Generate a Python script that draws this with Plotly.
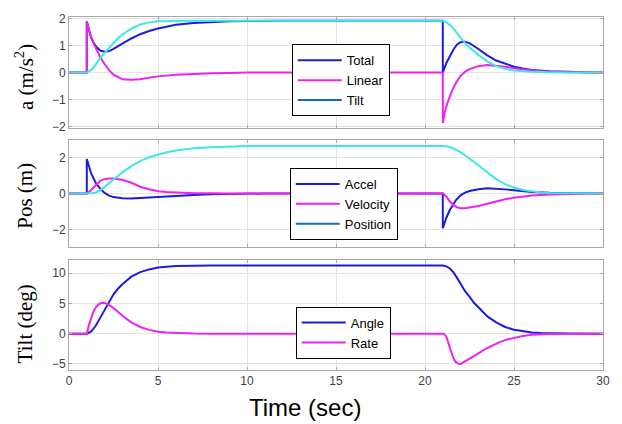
import plotly.graph_objects as go

# ---------------- data ----------------
# Panel 1: accelerations (m/s^2)
total_t = [0, 1, 1, 1.1, 1.25, 1.5, 1.75, 2, 2.25, 2.5, 2.75, 3, 3.5, 4, 4.5, 5, 5.5, 6, 7, 8, 9, 10, 12,
           21, 21, 21.2, 21.4, 21.6, 21.8, 22, 22.2, 22.5, 23, 23.5, 24, 24.5, 25, 25.5, 26, 27, 28, 29, 30]
total_v = [0, 0, 1.9, 1.62, 1.28, 0.98, 0.82, 0.78, 0.8, 0.88, 0.98, 1.08, 1.27, 1.43, 1.55, 1.64, 1.72, 1.78, 1.85, 1.89, 1.91, 1.92, 1.93,
           1.93, 0, 0.36, 0.61, 0.86, 1.05, 1.13, 1.16, 1.1, 0.88, 0.64, 0.45, 0.32, 0.22, 0.15, 0.1, 0.05, 0.02, 0.01, 0]

linear_t = [0, 1, 1, 1.1, 1.25, 1.5, 1.75, 2, 2.25, 2.5, 2.75, 3, 3.5, 4, 4.5, 5, 6, 7, 8, 9, 10,
            21, 21, 21.1, 21.25, 21.5, 21.75, 22, 22.25, 22.5, 23, 23.5, 24, 24.5, 25, 25.5, 26, 27, 28, 30]
linear_v = [0, 0, 1.9, 1.62, 1.3, 0.92, 0.58, 0.32, 0.09, -0.08, -0.18, -0.25, -0.27, -0.25, -0.19, -0.14, -0.08, -0.04, -0.02, -0.01, 0,
            0, -1.88, -1.5, -1.15, -0.7, -0.37, -0.12, 0.03, 0.13, 0.24, 0.28, 0.26, 0.22, 0.16, 0.12, 0.08, 0.03, 0.01, 0]

tilt_t = [0, 1, 1.25, 1.5, 1.75, 2, 2.25, 2.5, 2.75, 3, 3.5, 4, 4.5, 5, 6, 7,
          21, 21.25, 21.5, 21.75, 22, 22.25, 22.5, 23, 23.5, 24, 24.5, 25, 25.5, 26, 27, 28, 30]
tilt_v = [0, 0, 0.1, 0.3, 0.55, 0.74, 0.9, 1.1, 1.28, 1.42, 1.64, 1.79, 1.87, 1.91, 1.93, 1.93,
          1.93, 1.85, 1.72, 1.53, 1.3, 1.1, 0.93, 0.66, 0.42, 0.24, 0.14, 0.08, 0.05, 0.03, 0.01, 0, 0]

# Panel 2: position quantities
accel_t = [0, 1, 1, 1.1, 1.25, 1.5, 1.75, 2, 2.25, 2.5, 3, 3.5, 4, 5, 6, 7, 8, 9, 10, 11,
           21, 21, 21.2, 21.4, 21.6, 21.75, 22, 22.25, 22.5, 23, 23.5, 24, 24.5, 25, 25.5, 26, 27, 28, 30]
accel_v = [0, 0, 1.92, 1.55, 1.1, 0.6, 0.27, 0.03, -0.12, -0.2, -0.27, -0.28, -0.25, -0.17, -0.11, -0.08, -0.04, -0.02, -0.01, 0,
           0, -1.93, -1.35, -0.91, -0.6, -0.35, -0.1, 0.05, 0.14, 0.24, 0.29, 0.27, 0.23, 0.18, 0.13, 0.09, 0.04, 0.02, 0]

velocity_t = [0, 1, 1.25, 1.5, 1.75, 2, 2.25, 2.5, 3, 3.5, 4, 4.5, 5, 5.5, 6, 7, 8, 9,
              21, 21.2, 21.4, 21.6, 21.8, 22, 22.25, 22.5, 23, 23.5, 24, 24.5, 25, 25.5, 26, 27, 28, 29, 30]
velocity_v = [0, 0, 0.2, 0.48, 0.7, 0.8, 0.84, 0.83, 0.77, 0.6, 0.38, 0.24, 0.13, 0.08, 0.05, 0.02, 0.01, 0,
              0, -0.17, -0.45, -0.65, -0.77, -0.82, -0.82, -0.79, -0.7, -0.57, -0.44, -0.32, -0.23, -0.17, -0.11, -0.05, -0.02, -0.01, 0]

position_t = [0, 1, 1.25, 1.5, 1.75, 2, 2.25, 2.5, 3, 3.5, 4, 4.5, 5, 5.5, 6, 7, 8, 9, 10,
              21, 21.25, 21.5, 22, 22.5, 23, 23.5, 24, 24.5, 25, 25.5, 26, 26.5, 27, 28, 29, 30]
position_v = [0, 0, 0.01, 0.06, 0.18, 0.37, 0.57, 0.78, 1.18, 1.52, 1.8, 2.02, 2.18, 2.3, 2.4, 2.52, 2.58, 2.62, 2.64,
              2.64, 2.62, 2.55, 2.3, 1.95, 1.55, 1.15, 0.8, 0.52, 0.33, 0.2, 0.11, 0.06, 0.03, 0.01, 0, 0]

# Panel 3: tilt (deg)
angle_t = [0, 1, 1.25, 1.5, 1.75, 2, 2.25, 2.5, 2.75, 3, 3.5, 4, 4.5, 5, 5.5, 6, 7, 8,
           21, 21.2, 21.4, 21.6, 21.8, 22, 22.25, 22.5, 22.75, 23, 23.5, 24, 24.5, 25, 25.5, 26, 26.5, 27, 28, 30]
angle_v = [0, 0, 0.35, 1.3, 2.6, 3.9, 5.3, 6.5, 7.4, 8.15, 9.4, 10.15, 10.6, 10.9, 11.05, 11.15, 11.22, 11.25,
           11.25, 11.1, 10.75, 10.1, 9.2, 8.2, 7.0, 6.1, 5.1, 4.35, 2.85, 1.85, 1.1, 0.65, 0.37, 0.2, 0.1, 0.05, 0.01, 0]

rate_t = [0, 1, 1.1, 1.2, 1.35, 1.5, 1.65, 1.8, 1.95, 2.1, 2.4, 2.7, 3, 3.5, 4, 4.5, 5, 5.5, 6, 7, 8,
          21.05, 21.2, 21.4, 21.56, 21.7, 21.85, 22, 22.3, 22.6, 22.87, 23.4, 23.8, 24.2, 24.6, 25.1, 25.5, 26, 26.5, 27, 28, 30]
rate_v = [0, 0, 1.2, 2.3, 3.5, 4.3, 4.8, 5.05, 5.1, 4.95, 4.45, 3.75, 2.95, 1.86, 1.1, 0.62, 0.33, 0.17, 0.08, 0.02, 0,
          0, -0.5, -2.4, -3.8, -4.6, -4.95, -5.0, -4.5, -4.0, -3.5, -2.5, -1.9, -1.4, -0.95, -0.6, -0.38, -0.2, -0.1, -0.04, -0.01, 0]

x_ticks = [0, 5, 10, 15, 20, 25, 30]
y1_ticks = [-2, -1, 0, 1, 2]
y2_ticks = [-2, 0, 2]
y3_ticks = [-5, 0, 5, 10]

# ---------------- styling ----------------
BLUE = "#1c1cdc"
MAGENTA = "#ee22ee"
CYAN = "#40e6e6"
LEG_TILT = "#0d6fb8"
SANS = "Liberation Sans, Arial, sans-serif"
SERIF = "Liberation Serif, Times New Roman, serif"
LW = 2

fig = go.Figure()

def add(t, v, color, name, axis, legend, show=True):
    fig.add_trace(go.Scatter(x=t, y=v, mode="lines", name=name,
                             line=dict(color=color, width=LW),
                             xaxis="x" + axis, yaxis="y" + axis,
                             legend=legend, showlegend=show, hoverinfo="skip"))

def add_legend_only(color, name, axis, legend):
    fig.add_trace(go.Scatter(x=[None], y=[None], mode="lines", name=name,
                             line=dict(color=color, width=LW),
                             xaxis="x" + axis, yaxis="y" + axis,
                             legend=legend, showlegend=True))

# panel 1
add(total_t, total_v, BLUE, "Total", "", "legend")
add(linear_t, linear_v, MAGENTA, "Linear", "", "legend")
add(tilt_t, tilt_v, CYAN, "Tilt", "", "legend", show=False)
add_legend_only(LEG_TILT, "Tilt", "", "legend")
# panel 2
add(accel_t, accel_v, BLUE, "Accel", "2", "legend2")
add(velocity_t, velocity_v, MAGENTA, "Velocity", "2", "legend2")
add(position_t, position_v, CYAN, "Position", "2", "legend2", show=False)
add_legend_only(LEG_TILT, "Position", "2", "legend2")
# panel 3
add(angle_t, angle_v, BLUE, "Angle", "3", "legend3")
add(rate_t, rate_v, MAGENTA, "Rate", "3", "legend3")

# ---------------- layout ----------------
W, H = 622, 424
ml, mr, mt, mb = 69, 16, 16, 54
ph = H - mt - mb
def yd(top_px, bot_px):
    return [(H - mb - bot_px) / ph, (H - mb - top_px) / ph]

axis_common = dict(showgrid=True, gridcolor="#e4e4e4", gridwidth=1,
                   showline=True, linecolor="#a8a8a8", linewidth=1, mirror="ticks",
                   ticks="inside", ticklen=3, tickcolor="#a8a8a8", zeroline=False,
                   tickfont=dict(family=SANS, size=12, color="#404040"))

xcommon = dict(axis_common, range=[0, 30], tickvals=x_ticks)
fig.update_layout(
    width=W, height=H, margin=dict(l=ml, r=mr, t=mt, b=mb),
    paper_bgcolor="white", plot_bgcolor="white",
    xaxis=dict(xcommon, anchor="y", showticklabels=False),
    xaxis2=dict(xcommon, anchor="y2", showticklabels=False, matches="x"),
    xaxis3=dict(xcommon, anchor="y3", showticklabels=True, matches="x"),
    yaxis=dict(axis_common, anchor="x", domain=yd(16, 127), range=[-2.05, 2.07], tickvals=y1_ticks),
    yaxis2=dict(axis_common, anchor="x2", domain=yd(139, 247), range=[-3, 3], tickvals=y2_ticks),
    yaxis3=dict(axis_common, anchor="x3", domain=yd(260, 370), range=[-6, 12.1], tickvals=y3_ticks),
)

leg_common = dict(xanchor="left", yanchor="middle", bgcolor="white", bordercolor="black",
                  borderwidth=1, font=dict(family=SANS, size=13, color="black"),
                  tracegroupgap=0, traceorder="normal", itemwidth=44)
def lx(px):
    return (px - ml) / (W - ml - mr)
def ly(px):
    return (H - mb - px) / ph
fig.update_layout(
    legend=dict(leg_common, x=lx(293), y=ly(79.5)),
    legend2=dict(leg_common, x=lx(291), y=ly(203.5)),
    legend3=dict(leg_common, x=lx(297), y=ly(332.5)),
)

ann = []
for text, yc in [("a (m/s<sup>2</sup>)", 76), ("Pos (m)", 195), ("Tilt (deg)", 324)]:
    ann.append(dict(text=text, xref="paper", yref="paper", x=lx(25), y=ly(yc),
                    xanchor="center", yanchor="middle", textangle=-90, showarrow=False,
                    font=dict(family=SERIF, size=21, color="black")))
ann.append(dict(text="Time (sec)", xref="paper", yref="paper", x=lx(306), y=ly(408),
                xanchor="center", yanchor="middle", showarrow=False,
                font=dict(family=SANS, size=24, color="black")))
fig.update_layout(annotations=ann)

fig.write_html("out.html")
